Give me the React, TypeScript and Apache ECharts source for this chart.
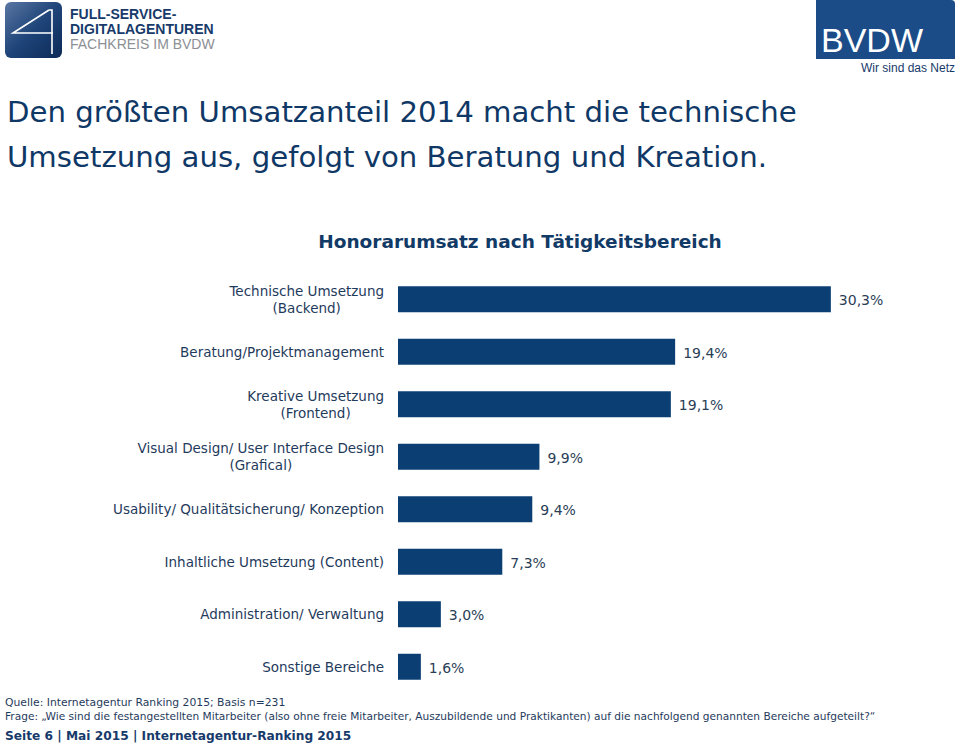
import React, { useEffect, useRef } from "react";
import * as echarts from "echarts";

const categories = [
  "Technische Umsetzung\n(Backend)",
  "Beratung/Projektmanagement",
  "Kreative Umsetzung\n(Frontend)",
  "Visual Design/ User Interface Design\n(Grafical)",
  "Usability/ Qualitätsicherung/ Konzeption",
  "Inhaltliche Umsetzung (Content)",
  "Administration/ Verwaltung",
  "Sonstige Bereiche",
];
const values = [30.3, 19.4, 19.1, 9.9, 9.4, 7.3, 3.0, 1.6];

const headline = [
  "Den größten Umsatzanteil 2014 macht die technische",
  "Umsetzung aus, gefolgt von Beratung und Kreation.",
];
const chartTitle = "Honorarumsatz nach Tätigkeitsbereich";
const footnotes = [
  "Quelle: Internetagentur Ranking 2015; Basis n=231",
  "Frage: „Wie sind die festangestellten Mitarbeiter (also ohne freie Mitarbeiter, Auszubildende und Praktikanten) auf die nachfolgend genannten Bereiche aufgeteilt?“",
];
const pageFooter = "Seite 6 | Mai 2015 | Internetagentur-Ranking 2015";

const FONT = "'DejaVu Sans', Verdana, sans-serif";
const LOGO_FONT = "'Liberation Sans', Arial, sans-serif";
const NAVY = "#0b3f74";
const TEXT = "#1f3b5c";

export default function App() {
  const ref = useRef<HTMLDivElement>(null);
  useEffect(() => {
    document.body.style.margin = "0";
    const chart = echarts.init(ref.current!, null, { renderer: "svg" });
    chart.setOption({
      animation: false,
      backgroundColor: "#ffffff",
      title: {
        text: chartTitle,
        left: 515,
        top: 227,
        textAlign: "center",
        textStyle: { fontFamily: FONT, fontSize: 18.5, fontWeight: "bold", color: "#123a66" },
      },
      grid: { left: 398, right: 62, top: 273, bottom: 52, containLabel: false },
      xAxis: {
        type: "value",
        min: 0,
        max: 35,
        show: false,
        splitLine: { show: false },
      },
      yAxis: {
        type: "category",
        data: categories,
        inverse: true,
        axisLine: { show: false },
        axisTick: { show: false },
        axisLabel: {
          margin: 14,
          align: "right",
          formatter: (v: string) => v.split("\n").map((l) => `{c|${l}}`).join("\n"),
          rich: {
            c: { align: "center", fontFamily: FONT, fontSize: 13.5, lineHeight: 17, color: TEXT },
          },
        },
      },
      series: [
        {
          type: "bar",
          data: values,
          barWidth: 26,
          itemStyle: { color: NAVY },
          label: {
            show: true,
            position: "right",
            distance: 8,
            offset: [0, 1],
            formatter: (p: any) => p.value.toFixed(1).replace(".", ",") + "%",
            fontFamily: FONT,
            fontSize: 14,
            color: "#2a3e56",
          },
        },
      ],
      graphic: [
        // left logo
        {
          type: "rect",
          shape: { x: 5, y: 2, width: 57, height: 56, r: 6 },
          style: {
            fill: new echarts.graphic.LinearGradient(0, 0, 1, 1, [
              { offset: 0, color: "#5a77a3" },
              { offset: 0.5, color: "#1e4479" },
              { offset: 1, color: "#0c2a57" },
            ]),
          },
        },
        {
          type: "polyline",
          shape: { points: [[49, 10], [13, 33], [53, 33]] },
          style: { stroke: "#ffffff", lineWidth: 1.6, fill: null },
        },
        {
          type: "polyline",
          shape: { points: [[49, 10], [52, 10], [52, 54]] },
          style: { stroke: "#ffffff", lineWidth: 1.6, fill: null },
        },
        {
          type: "text",
          x: 70,
          y: 7,
          style: { text: "FULL-SERVICE-", font: `bold 14px ${LOGO_FONT}`, lineHeight: 14, fill: "#173a6b" },
        },
        {
          type: "text",
          x: 70,
          y: 22,
          style: { text: "DIGITALAGENTUREN", font: `bold 14px ${LOGO_FONT}`, lineHeight: 14, fill: "#173a6b" },
        },
        {
          type: "text",
          x: 70,
          y: 37,
          style: { text: "FACHKREIS IM BVDW", font: `14px ${LOGO_FONT}`, lineHeight: 14, fill: "#8c8f94" },
        },
        // right logo
        {
          type: "rect",
          shape: { x: 816, y: 0, width: 139, height: 59, r: [0, 4, 0, 0] },
          style: { fill: "#1b4c88" },
        },
        {
          type: "text",
          x: 821,
          y: 23,
          style: { text: "BVDW", font: `34px ${LOGO_FONT}`, fill: "#ffffff" },
        },
        {
          type: "text",
          x: 955,
          y: 62,
          style: { text: "Wir sind das Netz", align: "right", font: `12px ${LOGO_FONT}`, fill: "#173a6b" },
        },
        // headline
        {
          type: "text",
          x: 7,
          y: 97,
          style: { text: headline[0], font: `29.2px ${FONT}`, fill: "#0f3866" },
        },
        {
          type: "text",
          x: 7,
          y: 142,
          style: { text: headline[1], font: `29.2px ${FONT}`, fill: "#0f3866" },
        },
        // footnotes
        {
          type: "text",
          x: 5,
          y: 697,
          style: { text: footnotes[0], font: `10.8px ${FONT}`, fill: "#1f3b5c" },
        },
        {
          type: "text",
          x: 5,
          y: 710,
          style: { text: footnotes[1], font: `10.6px ${FONT}`, fill: "#1f3b5c" },
        },
        {
          type: "text",
          x: 5,
          y: 730,
          style: { text: pageFooter, font: `bold 12.2px ${FONT}`, fill: "#173a6b" },
        },
      ],
    });
    return () => chart.dispose();
  }, []);
  return <div ref={ref} style={{ width: 960, height: 745 }} />;
}
